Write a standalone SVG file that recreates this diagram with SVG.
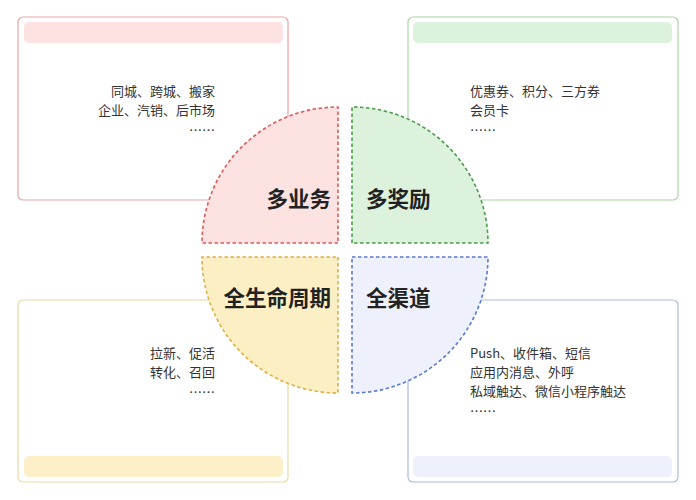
<svg xmlns="http://www.w3.org/2000/svg" width="696" height="500" viewBox="0 0 696 500">
<style>
.box{fill:#fff;stroke-width:1.2}
.q{stroke-width:1.6;stroke-dasharray:3.5 2.5}
.t{font-family:"Noto Sans CJK SC","Noto Sans",sans-serif;font-size:13px;fill:#333}
.h{font-family:"Noto Sans CJK SC","Noto Sans",sans-serif;font-size:21.5px;font-weight:bold;fill:#222}
</style>
<rect width="696" height="500" fill="#fff"/>
<g id="box-business">
<rect class="box" x="18" y="17" width="270" height="183" rx="5" stroke="#e8a6a6"/>
<rect x="24" y="22" width="259" height="21" rx="5" fill="#fde2e2"/>
<text class="t" text-anchor="end"><tspan x="215" y="96">同城、跨城、搬家</tspan><tspan x="215" y="115">企业、汽销、后市场</tspan><tspan x="215" y="135">……</tspan></text>
</g>
<g id="box-reward">
<rect class="box" x="408" y="17" width="270" height="183" rx="5" stroke="#acd4a6"/>
<rect x="413" y="22" width="259" height="21" rx="5" fill="#dcf2dc"/>
<text class="t"><tspan x="470" y="96">优惠券、积分、三方券</tspan><tspan x="470" y="115">会员卡</tspan><tspan x="470" y="135">……</tspan></text>
</g>
<g id="box-lifecycle">
<rect class="box" x="18" y="300" width="270" height="182" rx="5" stroke="#ecd9a4"/>
<rect x="24" y="456" width="259" height="21" rx="5" fill="#fdf0c8"/>
<text class="t" text-anchor="end"><tspan x="215" y="358">拉新、促活</tspan><tspan x="215" y="377">转化、召回</tspan><tspan x="215" y="397">……</tspan></text>
</g>
<g id="box-channel">
<rect class="box" x="408" y="300" width="270" height="182" rx="5" stroke="#a9b9e2"/>
<rect x="413" y="456" width="259" height="21" rx="5" fill="#eef1fb"/>
<text class="t"><tspan x="470" y="358">Push、收件箱、短信</tspan><tspan x="470" y="377">应用内消息、外呼</tspan><tspan x="470" y="396">私域触达、微信小程序触达</tspan><tspan x="470" y="416">……</tspan></text>
</g>
<g id="q-business">
<path class="q" d="M338 243 H202 A136 136 0 0 1 338 107 Z" fill="#fde2e2" stroke="#e05a5a"/>
<text class="h" x="331" y="207" text-anchor="end">多业务</text>
</g>
<g id="q-reward">
<path class="q" d="M352 243 V107 A136 136 0 0 1 488 243 Z" fill="#dcf2dc" stroke="#4a9a4a"/>
<text class="h" x="366" y="207">多奖励</text>
</g>
<g id="q-lifecycle">
<path class="q" d="M338 257 V393 A136 136 0 0 1 202 257 Z" fill="#fdefc4" stroke="#e0b040"/>
<text class="h" x="331" y="306" text-anchor="end">全生命周期</text>
</g>
<g id="q-channel">
<path class="q" d="M352 257 H488 A136 136 0 0 1 352 393 Z" fill="#eef1fb" stroke="#5a7ad0"/>
<text class="h" x="366" y="306">全渠道</text>
</g>
<g id="connectors"/>
</svg>
